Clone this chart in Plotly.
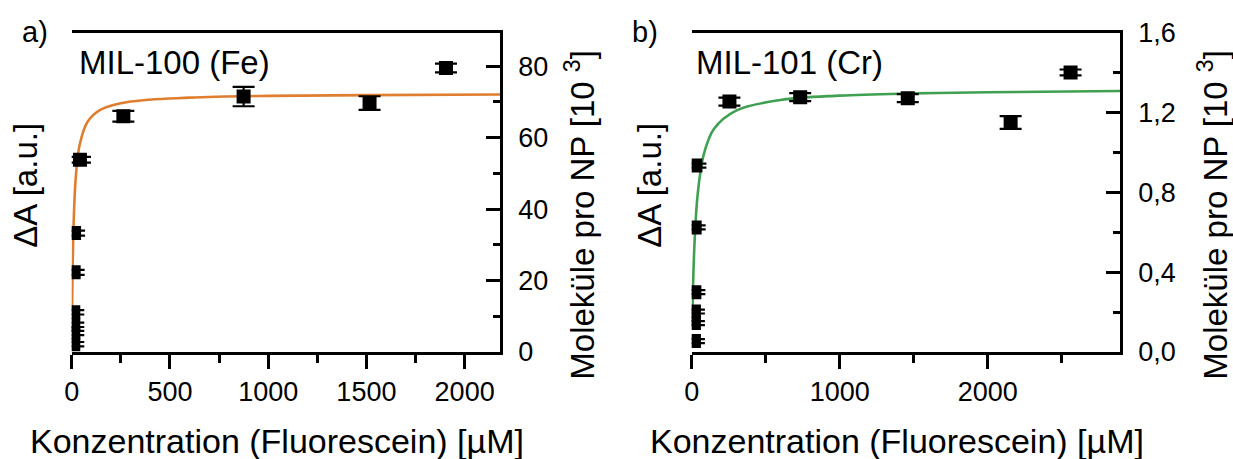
import plotly.graph_objects as go

W, H = 1233, 459

# ---------------- data ----------------
# panel a) MIL-100 (Fe)
fe_conc = [8, 8, 8, 8, 10, 12, 42, 263, 875, 1516, 1905]
fe_mol = [2.2, 5.3, 7.6, 11.1, 22.3, 33.3, 53.8, 66.0, 71.5, 69.7, 79.5]
fe_err = [0.6, 0.6, 0.6, 0.6, 0.7, 0.7, 0.8, 1.5, 2.7, 1.9, 1.2]
# fitted curve
fe_fit_x = [2, 5, 10, 20, 40, 80, 150, 300, 600, 1000, 1500, 2180]
fe_fit_y = [12.1, 24.1, 36.2, 48.3, 57.9, 64.4, 67.9, 70.1, 71.2, 71.7, 71.9, 72.1]

# panel b) MIL-101 (Cr)
cr_conc = [15, 15, 15, 18, 20, 25, 255, 733, 1460, 2155, 2560]
cr_mol = [0.055, 0.145, 0.203, 0.300, 0.625, 0.935, 1.256, 1.278, 1.273, 1.151, 1.402]
cr_err = [0.01, 0.01, 0.01, 0.01, 0.01, 0.01, 0.02, 0.02, 0.02, 0.032, 0.015]
cr_fit_x = [3, 5, 10, 20, 40, 80, 150, 300, 600, 1000, 1500, 2000, 2900]
cr_fit_y = [0.13, 0.206, 0.357, 0.562, 0.788, 0.987, 1.119, 1.211, 1.264, 1.286, 1.297, 1.303, 1.309]

x_title = "Konzentration (Fluorescein) [µM]"
y_left_title = "ΔA [a.u.]"
y_right_title = "Moleküle pro NP [10 <sup>3</sup>]"

FONT = "Liberation Sans, Arial, sans-serif"
ORANGE = "rgb(224,126,48)"
GREEN = "rgb(62,160,80)"

# plot-area geometry in pixels
TOP, BOT = 33.3, 352.3


def px(x):
    return x / W


def py(y):
    return (BOT - y) / (BOT - TOP)


fig = go.Figure()

marker = dict(symbol="square", size=14, color="black")

fig.add_trace(go.Scatter(x=fe_fit_x, y=fe_fit_y, mode="lines", line=dict(color=ORANGE, width=2.6, shape="spline"),
                         xaxis="x", yaxis="y2", showlegend=False, hoverinfo="skip"))
fig.add_trace(go.Scatter(x=fe_conc, y=fe_mol, mode="markers", marker=marker,
                         error_y=dict(type="data", array=fe_err, color="black", thickness=2.2, width=11),
                         xaxis="x", yaxis="y2", showlegend=False))
fig.add_trace(go.Scatter(x=cr_fit_x, y=cr_fit_y, mode="lines", line=dict(color=GREEN, width=2.6, shape="spline"),
                         xaxis="x2", yaxis="y4", showlegend=False, hoverinfo="skip"))
fig.add_trace(go.Scatter(x=cr_conc, y=cr_mol, mode="markers", marker=marker,
                         error_y=dict(type="data", array=cr_err, color="black", thickness=2.2, width=11),
                         xaxis="x2", yaxis="y4", showlegend=False))

LW = 2.5

xa_common = dict(showline=True, linecolor="black", linewidth=LW, mirror=True, showgrid=False, zeroline=False,
                 ticks="outside", ticklen=14, tickwidth=LW, tickcolor="black", automargin=False,
                 tickfont=dict(size=27, color="black", family=FONT))
yl_common = dict(domain=[0, 1], showline=True, linecolor="black", linewidth=LW, showgrid=False, zeroline=False,
                 ticks="outside", ticklen=13, tickwidth=LW, tickcolor="black", showticklabels=False, dtick=2,
                 automargin=False,
                 minor=dict(ticks="outside", ticklen=8, tickwidth=LW, tickcolor="black", dtick=1, showgrid=False))
yr_common = dict(showline=True, linecolor="black", linewidth=LW, showgrid=False, zeroline=False, side="right",
                 ticks="inside", ticklen=14, tickwidth=LW, tickcolor="black", automargin=False,
                 tickfont=dict(size=27, color="black", family=FONT), ticklabelstandoff=10)

fig.update_layout(
    template="none",
    width=W, height=H, margin=dict(l=0, r=0, t=TOP, b=H - BOT, pad=0, autoexpand=False),
    paper_bgcolor="white", plot_bgcolor="white",
    font=dict(family=FONT, color="black"),
    separators=",.",
    xaxis=dict(domain=[px(71.7), px(500)], range=[0, 2180], anchor="y", dtick=500, tick0=0,
               minor=dict(ticks="outside", ticklen=8, tickwidth=LW, tickcolor="black", dtick=250, showgrid=False),
               **xa_common),
    yaxis=dict(range=[0, 8], anchor="x", **yl_common),
    yaxis2=dict(range=[0, 89.3], overlaying="y", anchor="x", dtick=20, tick0=0,
                minor=dict(ticks="inside", ticklen=7, tickwidth=LW, tickcolor="black", dtick=10, showgrid=False),
                **yr_common),
    xaxis2=dict(domain=[px(691.7), px(1120)], range=[0, 2894], anchor="y3", dtick=1000, tick0=0,
                minor=dict(ticks="outside", ticklen=8, tickwidth=LW, tickcolor="black", dtick=500, showgrid=False),
                **xa_common),
    yaxis3=dict(range=[0, 10], anchor="x2", **yl_common),
    yaxis4=dict(range=[0, 1.6], overlaying="y3", anchor="x2", dtick=0.4, tick0=0, tickformat=".1f",
                minor=dict(ticks="inside", ticklen=7, tickwidth=LW, tickcolor="black", dtick=0.2, showgrid=False),
                **yr_common),
)

ann = []


def add_text(text, x, y, size, xanchor="center", yanchor="middle", angle=0):
    ann.append(dict(text=text, x=px(x), y=py(y), xref="paper", yref="paper", showarrow=False,
                    xanchor=xanchor, yanchor=yanchor, textangle=angle,
                    font=dict(size=size, family=FONT, color="black")))


add_text("a)", 35, 32, 29)
add_text("b)", 645, 32, 29)
add_text("MIL-100 (Fe)", 77, 63, 33, xanchor="left")
add_text("MIL-101 (Cr)", 694, 63, 33, xanchor="left")
add_text(x_title, 277, 441, 34)
add_text(x_title, 897, 441, 34)
add_text(y_left_title, 26, 186, 33, angle=-90)
add_text(y_left_title, 650, 186, 33, angle=-90)
add_text(y_right_title, 580, 215, 33, angle=-90)
add_text(y_right_title, 1213, 215, 33, angle=-90)

fig.update_layout(annotations=ann)

fig.write_html("out.html")
